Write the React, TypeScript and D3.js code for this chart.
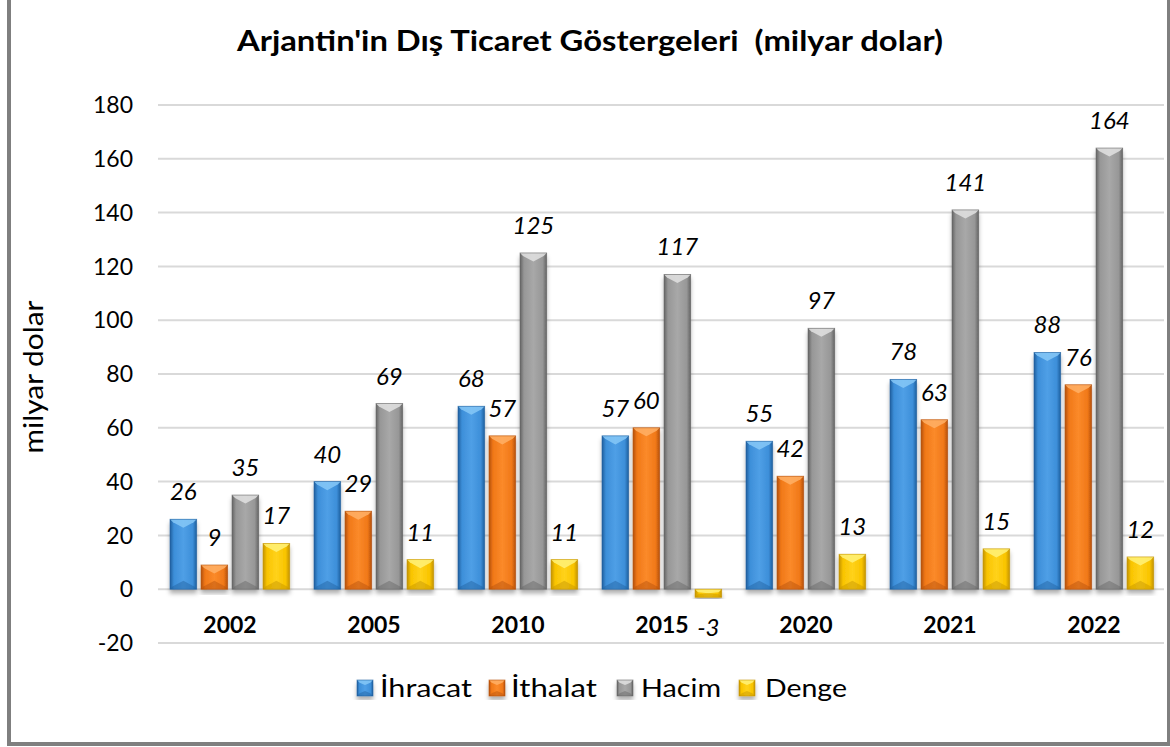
import React from "react";
import * as d3 from "d3";

const years = ["2002", "2005", "2010", "2015", "2020", "2021", "2022"];
const seriesNames = ["İhracat", "İthalat", "Hacim", "Denge"];
const ihracat = [26, 40, 68, 57, 55, 78, 88];
const ithalat = [9, 29, 57, 60, 42, 63, 76];
const hacim = [35, 69, 125, 117, 97, 141, 164];
const denge = [17, 11, 11, -3, 13, 15, 12];
const yTicks = [-20, 0, 20, 40, 60, 80, 100, 120, 140, 160, 180];

const seriesValues = [ihracat, ithalat, hacim, denge];
const palette = [
  { base: "#3d8fd9", light: "#86c8f7", dark: "#1f5f9e", mid: "#4f9fe6" },
  { base: "#f07818", light: "#ffb066", dark: "#b4500a", mid: "#fb8a2a" },
  { base: "#979797", light: "#e2e2e2", dark: "#646464", mid: "#a8a8a8" },
  { base: "#f9c400", light: "#fff27a", dark: "#c39300", mid: "#ffd21a" },
];
const legendLayout = [
  { sq: 357, tx: 380, tw: 92 },
  { sq: 489, tx: 511, tw: 86 },
  { sq: 617, tx: 641, tw: 80 },
  { sq: 739, tx: 765, tw: 82 },
];

const FONT = "Lato, 'Open Sans', sans-serif";

function Bar({ x, y0, y1, w, ci }: { x: number; y0: number; y1: number; w: number; ci: number }) {
  const top = Math.min(y0, y1);
  const bottom = Math.max(y0, y1);
  const h = bottom - top;
  const c = palette[ci];
  const d = Math.min(w * 0.32, h / 2);
  const e = Math.min(3, w / 6);
  return (
    <g filter="url(#shadow)">
      <rect x={x} y={top} width={w} height={h} fill={`url(#grad${ci})`} />
      <polygon
        points={`${x},${top} ${x + w},${top} ${x + w - e},${top + Math.min(e, d)} ${x + w / 2},${top + d} ${x + e},${top + Math.min(e, d)}`}
        fill={c.light}
        opacity={0.85}
      />
      <polygon
        points={`${x},${bottom} ${x + w},${bottom} ${x + w - e},${bottom - Math.min(e, d)} ${x + w / 2},${bottom - d} ${x + e},${bottom - Math.min(e, d)}`}
        fill={c.dark}
        opacity={0.45}
      />
      <rect x={x} y={top} width={w} height={h} fill="none" stroke={c.dark} strokeWidth={0.8} opacity={0.7} />
    </g>
  );
}

export default function App() {
  const x0 = d3.scaleBand<string>().domain(years).range([158, 1166]).padding(0);
  const x1 = d3.scaleBand<string>().domain(seriesNames).range([12, 131.7]).paddingInner(0.14).paddingOuter(0);
  const y = d3.scaleLinear().domain([-20, 180]).range([643, 105]);
  const bw = x1.bandwidth();

  return (
    <svg width={1170} height={747} style={{ position: "absolute", left: 0, top: 0, background: "#fff" }}>
      <defs>
        {palette.map((c, i) => (
          <linearGradient key={i} id={`grad${i}`} x1="0" x2="1" y1="0" y2="0">
            <stop offset="0" stopColor={c.dark} />
            <stop offset="0.15" stopColor={c.base} />
            <stop offset="0.5" stopColor={c.mid} />
            <stop offset="0.85" stopColor={c.base} />
            <stop offset="1" stopColor={c.dark} />
          </linearGradient>
        ))}
        <filter id="shadow" x="-30%" y="-10%" width="160%" height="130%">
          <feDropShadow dx="0" dy="4" stdDeviation="2" floodColor="#000" floodOpacity="0.3" />
        </filter>
      </defs>
      <rect x={0} y={0} width={1170} height={747} fill="#fff" />
      <rect x={9} y={-10} width={1160} height={754} fill="none" stroke="#7f7f7f" strokeWidth={4} />

      <text x={590} y={51} textAnchor="middle" fontFamily={FONT} fontWeight="bold" fontSize={28} textLength={706} lengthAdjust="spacingAndGlyphs" fill="#000" style={{ whiteSpace: "pre" }}>
        {"Arjantin'in Dış Ticaret Göstergeleri  (milyar dolar)"}
      </text>

      {yTicks.map((t) => (
        <g key={t}>
          <line x1={158} x2={1164} y1={y(t)} y2={y(t)} stroke="#d9d9d9" strokeWidth={2} />
          <text x={133} y={y(t)} dy="0.36em" textAnchor="end" fontFamily={FONT} fontSize={23} fill="#000">
            {t}
          </text>
        </g>
      ))}

      <text
        transform={`translate(43,377) rotate(-90)`}
        textAnchor="middle"
        fontFamily={FONT}
        fontSize={26}
        textLength={153}
        lengthAdjust="spacingAndGlyphs"
        fill="#000"
      >
        milyar dolar
      </text>

      {years.map((yr, gi) => (
        <g key={yr}>
          {seriesNames.map((s, si) => {
            const v = seriesValues[si][gi];
            const bx = (x0(yr) as number) + (x1(s) as number);
            return <Bar key={s} x={bx} y0={y(0)} y1={y(v)} w={bw} ci={si} />;
          })}
        </g>
      ))}

      {years.map((yr, gi) => (
        <g key={"l" + yr}>
          {seriesNames.map((s, si) => {
            const v = seriesValues[si][gi];
            const bx = (x0(yr) as number) + (x1(s) as number) + bw / 2;
            const ly = v >= 0 ? y(v) - 19 : y(v) + 39;
            return (
              <text key={s} x={bx} y={ly} textAnchor="middle" fontFamily={FONT} fontStyle="italic" fontSize={24} fill="#000">
                {v}
              </text>
            );
          })}
          <text x={(x0(yr) as number) + x0.bandwidth() / 2} y={633} textAnchor="middle" fontFamily={FONT} fontWeight="bold" fontSize={23} fill="#000">
            {yr}
          </text>
        </g>
      ))}

      {seriesNames.map((s, i) => (
        <g key={"lg" + s}>
          <Bar x={legendLayout[i].sq} y0={696} y1={680} w={16} ci={i} />
          <text x={legendLayout[i].tx} y={697} fontFamily={FONT} fontSize={25} textLength={legendLayout[i].tw} lengthAdjust="spacingAndGlyphs" fill="#000">
            {s}
          </text>
        </g>
      ))}
    </svg>
  );
}
